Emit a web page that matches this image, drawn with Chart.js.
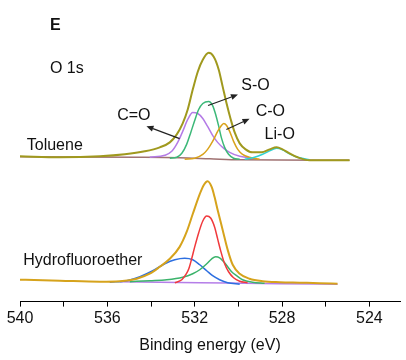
<!DOCTYPE html>
<html>
<head>
<meta charset="utf-8">
<script src="https://cdn.jsdelivr.net/npm/chart.js@4.4.1/dist/chart.umd.min.js"></script>
<style>
  html, body { margin: 0; padding: 0; background: #ffffff; }
  canvas { display: block; }
</style>
</head>
<body>
<canvas id="c" width="406" height="360"></canvas>
<script>
// ---- Data (binding energy in eV, intensity in a.u.) ----
const xTickValues = [540, 538, 536, 534, 532, 530, 528, 526, 524];
const xTickLabels = ['540', '', '536', '', '532', '', '528', '', '524'];

// Toluene (upper spectrum)
const tolueneEnvelope = [[540.00,146],[538.17,145],[536.34,146],[535.20,148],[534.29,151],[533.60,155],[533.14,160],[532.82,168],[532.55,179],[532.32,193],[532.09,213],[531.86,231],[531.63,243],[531.36,250],[531.13,246],[530.90,233],[530.72,216],[530.54,199],[530.35,183],[530.17,170],[529.94,159],[529.67,153],[529.35,150],[528.94,150],[528.57,153],[528.25,155],[527.98,153],[527.66,149],[527.29,145],[526.74,142],[525.83,142],[524.91,142]];
const tolueneCO_double = [[534.06,145],[533.37,147],[533.05,151],[532.78,160],[532.55,171],[532.32,183],[532.09,190],[531.86,189],[531.63,184],[531.41,176],[531.18,167],[530.95,160],[530.67,154],[530.40,150],[529.94,146],[529.26,144]];
const tolueneSO = [[533.14,144],[532.82,145],[532.59,149],[532.37,158],[532.18,170],[532.00,182],[531.82,193],[531.63,199],[531.36,201],[531.18,197],[531.04,188],[530.90,176],[530.77,164],[530.63,155],[530.45,148],[530.22,144],[529.94,143]];
const tolueneCO_single = [[532.46,143],[532.00,144],[531.63,148],[531.41,153],[531.18,161],[530.95,171],[530.81,176],[530.67,179],[530.54,177],[530.40,171],[530.22,161],[530.03,153],[529.81,148],[529.49,145],[529.03,143]];
const tolueneLiO = [[529.71,143],[529.26,145],[528.89,148],[528.57,151.5],[528.25,154],[527.98,152.5],[527.66,148.5],[527.29,145],[526.74,142.5]];
const tolueneBackground = [[540.00,145.5],[534.51,145],[532.69,144.5],[531.31,143.5],[529.94,142.5],[524.91,142]];

// Hydrofluoroether (lower spectrum)
const hfeEnvelope = [[540.00,22],[538.17,21],[536.34,20],[535.43,20.5],[534.65,23],[534.06,28],[533.60,35],[533.14,43],[532.69,55],[532.37,70],[532.09,88],[531.77,108],[531.59,117],[531.41,121],[531.22,115],[531.09,105],[530.95,92],[530.72,72],[530.49,52],[530.26,37],[529.94,28],[529.49,23],[528.89,20.5],[528.11,19.5],[527.20,19],[526.29,18.5],[525.46,18]];
const hfeRed = [[532.91,19],[532.59,22],[532.41,27],[532.27,33],[532.14,43],[532.00,55],[531.82,69],[531.63,81],[531.45,86],[531.27,84],[531.09,75],[530.95,63],[530.81,51],[530.63,38],[530.45,30],[530.22,24],[529.94,20.5],[529.58,19]];
const hfeBlue = [[535.89,19.5],[535.11,21],[534.51,25],[533.92,31],[533.37,38],[532.91,42],[532.46,43.5],[532.09,42],[531.77,37],[531.45,31],[531.18,26],[530.86,22],[530.49,19],[529.94,17.5]];
const hfeGreen = [[534.97,20],[534.06,21],[533.28,22],[532.55,24.5],[532.09,28],[531.77,32],[531.45,38],[531.22,43],[531.04,45],[530.86,44],[530.67,40],[530.49,35],[530.31,30],[530.08,26],[529.81,22],[529.35,19.5],[528.80,18.5]];
const hfeBackground = [[535.43,20],[531.77,19],[528.11,18],[525.46,17.5]];

// Annotations: [text, x (eV, left edge), y (a.u., vertical centre), bold]
const labels = [
  ['E', 538.63, 277, true],
  ['O 1s', 538.63, 234, false],
  ['C=O', 535.55, 187, false],
  ['S-O', 529.87, 217.5, false],
  ['C-O', 529.21, 190.5, false],
  ['Li-O', 528.80, 167.5, false],
  ['Toluene', 539.69, 157, false],
  ['Hydrofluoroether', 539.85, 41, false]
];
// Arrows: [fromX, fromY, toX, toY] in data units
const arrows = [
  [532.69, 163.7, 534.21, 176.3],
  [531.39, 197, 530.02, 208],
  [530.55, 173, 529.49, 183.7]
];

const FONT = "'Liberation Sans', Arial, Helvetica, sans-serif";
const toXY = arr => arr.map(([x, y]) => ({ x, y }));

function ds(data, color, width) {
  return {
    data: toXY(data),
    borderColor: color,
    backgroundColor: color,
    borderWidth: width,
    pointRadius: 0,
    fill: false,
    cubicInterpolationMode: 'monotone',
    clip: false
  };
}

const annotationPlugin = {
  id: 'annotations',
  afterDraw(chart) {
    const ctx = chart.ctx;
    const xs = chart.scales.x, ys = chart.scales.y;
    ctx.save();
    ctx.fillStyle = '#111';
    ctx.textBaseline = 'middle';
    ctx.textAlign = 'left';
    labels.forEach(([t, x, y, bold]) => {
      ctx.font = (bold ? 'bold ' : '') + '16px ' + FONT;
      ctx.fillText(t, xs.getPixelForValue(x), ys.getPixelForValue(y));
    });
    ctx.strokeStyle = '#222';
    ctx.fillStyle = '#222';
    ctx.lineWidth = 1.2;
    arrows.forEach(([x1, y1, x2, y2]) => {
      const px1 = xs.getPixelForValue(x1), py1 = ys.getPixelForValue(y1);
      const px2 = xs.getPixelForValue(x2), py2 = ys.getPixelForValue(y2);
      const ang = Math.atan2(py2 - py1, px2 - px1);
      const hl = 7, hw = 3;
      const bx = px2 - hl * Math.cos(ang), by = py2 - hl * Math.sin(ang);
      ctx.beginPath();
      ctx.moveTo(px1, py1);
      ctx.lineTo(bx, by);
      ctx.stroke();
      ctx.beginPath();
      ctx.moveTo(px2, py2);
      ctx.lineTo(bx + hw * Math.sin(ang), by - hw * Math.cos(ang));
      ctx.lineTo(bx - hw * Math.sin(ang), by + hw * Math.cos(ang));
      ctx.closePath();
      ctx.fill();
    });
    ctx.restore();
  }
};

new Chart(document.getElementById('c'), {
  type: 'line',
  data: {
    datasets: [
      ds(tolueneEnvelope, '#a0991e', 2),
      ds(hfeEnvelope, '#d6a31c', 2),
      ds(tolueneLiO, '#2fd3d3', 1.5),
      ds(tolueneCO_single, '#d9a21b', 1.5),
      ds(tolueneSO, '#3cb878', 1.5),
      ds(tolueneCO_double, '#b47be6', 1.5),
      ds(tolueneBackground, '#a07272', 1.5),
      ds(hfeRed, '#f0393c', 1.5),
      ds(hfeGreen, '#3bb36b', 1.5),
      ds(hfeBlue, '#2d6fe0', 1.5),
      ds(hfeBackground, '#b57ee8', 1.5)
    ]
  },
  options: {
    responsive: false,
    animation: false,
    devicePixelRatio: 1,
    layout: { padding: { left: 20, right: 6, top: 10, bottom: 5 } },
    plugins: { legend: { display: false }, tooltip: { enabled: false } },
    scales: {
      x: {
        type: 'linear',
        reverse: true,
        min: 522.6,
        max: 540,
        afterBuildTicks: s => { s.ticks = xTickValues.map(v => ({ value: v })); },
        ticks: {
          callback: v => xTickLabels[xTickValues.indexOf(v)],
          font: { size: 16, family: FONT },
          color: '#111',
          padding: 2,
          maxRotation: 0,
          autoSkip: false
        },
        grid: { drawOnChartArea: false, drawTicks: true, tickLength: 5, color: '#000', lineWidth: 1 },
        border: { display: true, color: '#000', width: 1 },
        title: {
          display: true,
          text: 'Binding energy (eV)',
          font: { size: 16, family: FONT },
          color: '#111',
          padding: { top: 6, bottom: 0 }
        }
      },
      y: {
        display: false,
        min: 0,
        max: 293
      }
    }
  },
  plugins: [annotationPlugin]
});
</script>
</body>
</html>
